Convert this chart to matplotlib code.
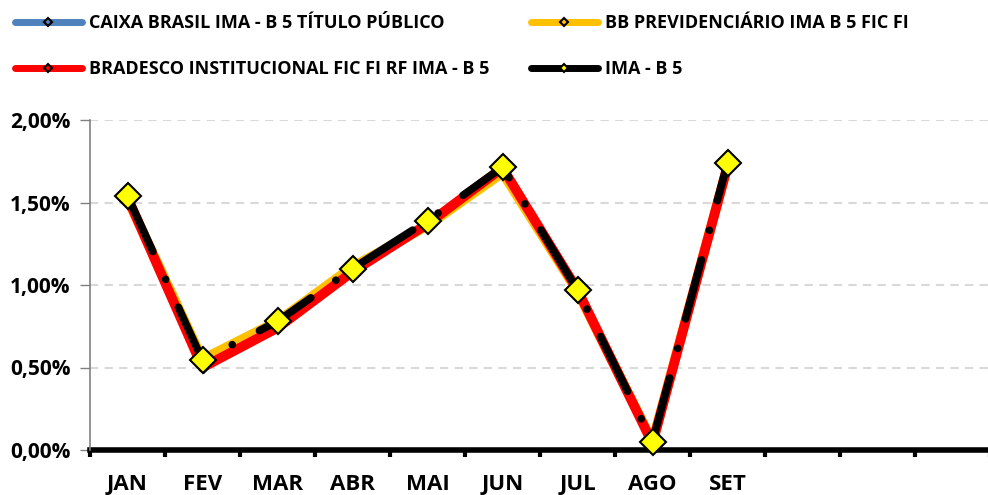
import matplotlib
matplotlib.use("Agg")
import matplotlib.pyplot as plt
from matplotlib.lines import Line2D
from matplotlib.ticker import FuncFormatter, FixedLocator
import numpy as np

categories = ['JAN', 'FEV', 'MAR', 'ABR', 'MAI', 'JUN', 'JUL', 'AGO', 'SET', '', '', '']
caixa = [1.53, 0.54, 0.77, 1.09, 1.37, 1.69, 0.95, 0.04, 1.72]
bb = [1.52, 0.55, 0.78, 1.11, 1.36, 1.68, 0.96, 0.05, 1.72]
bradesco = [1.53, 0.50, 0.74, 1.08, 1.37, 1.71, 0.97, 0.04, 1.72]
ima_b5 = [1.54, 0.545, 0.78, 1.10, 1.39, 1.715, 0.97, 0.05, 1.74]

names = ['CAIXA BRASIL IMA - B 5 TÍTULO PÚBLICO', 'BB PREVIDENCIÁRIO IMA B 5 FIC FI',
         'BRADESCO INSTITUCIONAL FIC FI RF IMA - B 5', 'IMA - B 5']

fam = 'Open Sans'
plt.rcParams['font.family'] = [fam, 'DejaVu Sans']
plt.rcParams['font.weight'] = 'bold'

fig = plt.figure(figsize=(9.88, 4.95), dpi=100)
ax = fig.add_axes([90/988, 45/495, 900/988, 330/495])

x = np.arange(len(ima_b5))
ax.plot(x, caixa, color='#4F81BD', lw=4, marker='D', ms=5, mfc='#4F81BD', mec='black', zorder=3)
ax.plot(x, bb, color='#FFC000', lw=7, marker='D', ms=5, mfc='#FFC000', mec='black', zorder=4)
ax.plot(x, bradesco, color='#FF0000', lw=7, marker='D', ms=5, mfc='#FF0000', mec='black', zorder=5)
ax.plot(x, ima_b5, color='black', lw=5.5, dashes=(8, 4, 0.01, 4), dash_capstyle='round',
        marker='D', ms=13, mfc='#FFFF00', mec='black', mew=1.5, zorder=6, clip_on=False)

ax.set_xlim(-0.5, len(categories) - 0.5)
ax.set_ylim(0, 2.0)
ax.set_yticks([0, 0.5, 1.0, 1.5, 2.0])
ax.yaxis.set_major_formatter(FuncFormatter(lambda v, p: f"{v:.2f}%".replace('.', ',')))
ax.yaxis.grid(True, color='#D9D9D9', lw=1.5, ls=(0, (4, 3)))
ax.set_axisbelow(True)

ax.xaxis.set_major_locator(FixedLocator(np.arange(-0.5, len(categories), 1.0)))
ax.xaxis.set_minor_locator(FixedLocator(np.arange(len(categories))))
ax.set_xticklabels([], minor=False)
ax.set_xticklabels(categories, minor=True, fontweight='bold')
ax.tick_params(axis='x', which='major', length=5, width=3, color='black', direction='out')
ax.tick_params(axis='x', which='minor', length=0, pad=17, labelsize=16)
ax.tick_params(axis='y', length=7, width=1, color='#808080', labelsize=15, pad=7)
for t in ax.get_yticklabels():
    t.set_fontweight('bold')

for s in ['top', 'right']:
    ax.spines[s].set_visible(False)
ax.spines['left'].set_color('#808080')
ax.spines['left'].set_linewidth(1.2)
ax.spines['bottom'].set_color('black')
ax.spines['bottom'].set_linewidth(4)
ax.spines['bottom'].set_zorder(2)

def h(color, mfc):
    return Line2D([], [], color=color, lw=5, marker='D', ms=4.5, mfc=mfc, mec='black', mew=1.5,
                  solid_capstyle='round')

handles = [h('#4F81BD', '#4F81BD'), h('#FFC000', '#FFC000'), h('#FF0000', '#FF0000'), h('black', '#FFFF00')]

leg_kw = dict(frameon=False, handlelength=3.7, handletextpad=0.4,
              labelspacing=1.55, borderaxespad=0, borderpad=0, loc='upper left',
              prop={'family': [fam, 'DejaVu Sans'], 'weight': 'bold', 'size': 13})
l1 = fig.legend([handles[0], handles[2]], [names[0], names[2]],
                bbox_to_anchor=(15/988, 1 - 14/495), **leg_kw)
l2 = fig.legend([handles[1], handles[3]], [names[1], names[3]],
                bbox_to_anchor=(531/988, 1 - 14/495), **leg_kw)

fig.savefig('out.png', dpi=100)
